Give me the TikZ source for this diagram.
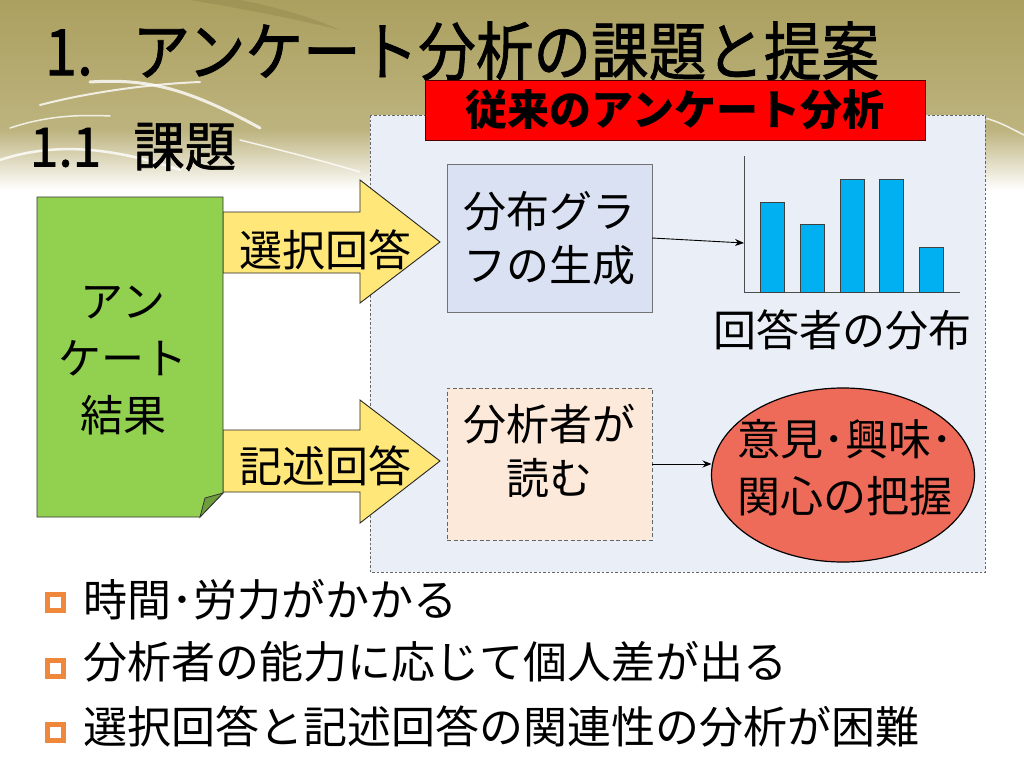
\documentclass[tikz,border=0pt]{standalone}
\usepackage{fontspec}
\setmainfont{Noto Sans CJK JP}
\newfontfamily\titlefont{Noto Sans CJK JP}[FakeBold=1.2]
\usetikzlibrary{shapes.geometric,arrows.meta}
\definecolor{olivetop}{HTML}{ABA05F}
\definecolor{olivemid}{HTML}{BDB37E}
\definecolor{olivedark}{HTML}{8A7F45}
\definecolor{regfill}{HTML}{EAEEF6}
\definecolor{boxblue}{HTML}{DAE1F2}
\definecolor{boxpeach}{HTML}{FDE9D9}
\definecolor{docgreen}{HTML}{92D050}
\definecolor{docfold}{HTML}{6E9E3C}
\definecolor{arrowyel}{HTML}{FFE77A}
\definecolor{barblue}{HTML}{00B0F0}
\definecolor{ellred}{HTML}{EE6B59}
\definecolor{bulorange}{HTML}{F0883C}
\begin{document}
\begin{tikzpicture}[x=1pt,y=-1pt,
  every node/.style={inner sep=0pt,outer sep=0pt},
  bodytext/.style={font=\fontsize{43}{54}\selectfont,align=center},
  bullettext/.style={font=\fontsize{44}{52}\selectfont,anchor=west},
  blockarrow/.style={fill=arrowyel,draw=black!85,line width=0.9pt,line join=miter},
  conn/.style={draw=black,line width=0.9pt,-{Stealth[length=9pt,width=7pt]}},
  bulletbox/.style={draw=bulorange,line width=4.5pt},
  streak/.style={draw=white,line cap=round,opacity=0.8}]
\useasboundingbox (0,0) rectangle (1024,768);
% background
\fill[white] (0,0) rectangle (1024,768);
\shade[top color=olivetop,bottom color=olivemid] (0,0) rectangle (1024,130);
\shade[top color=olivemid,bottom color=white] (0,129.5) rectangle (1024,190);
\fill[olivedark,opacity=0.35] (190,0) .. controls (250,10) and (300,20) .. (340,30) .. controls (300,12) and (260,4) .. (240,0) -- cycle;
\draw[streak,line width=2pt] (40,105) .. controls (90,92) and (150,84) .. (200,82);
\draw[streak,line width=3pt] (90,82) .. controls (150,78) and (190,90) .. (260,128);
\draw[streak,line width=1.5pt] (10,128) .. controls (40,118) and (70,114) .. (110,116);
\draw[streak,line width=2.5pt] (0,160) .. controls (60,140) and (120,150) .. (180,170);
\draw[streak,line width=1.5pt] (240,140) .. controls (280,150) and (320,160) .. (360,172);
\draw[streak,line width=1.5pt] (985,118) .. controls (1000,122) and (1010,128) .. (1024,135);
% title
\node[anchor=west] (title) at (45,51) {\scalebox{0.9}[1]{\titlefont\fontsize{64}{70}\selectfont 1.\hspace{44pt}アンケート分析の課題と提案}};
\node[anchor=west] (subtitle) at (30,147) {\scalebox{0.95}[1]{\titlefont\fontsize{54}{60}\selectfont 1.1\hspace{34pt}課題}};
% region
\draw[fill=regfill,draw=black!60,line width=0.8pt,dash pattern=on 2.5pt off 2pt] (370,115) rectangle (985,572);
% header
\node[fill=red,draw=black!70!red,line width=0.8pt,minimum width=500,minimum height=60,font=\fontsize{42}{48}\selectfont\bfseries] (hdr) at (675,110) {従来のアンケート分析};
% block arrows
\draw[blockarrow] (223,212) -- (360,212) -- (360,180) -- (440,242) -- (360,303) -- (360,273) -- (223,273) -- cycle;
\draw[blockarrow] (223,430) -- (360,430) -- (360,400) -- (440,461) -- (360,523) -- (360,492) -- (223,492) -- cycle;
\node[bodytext] (sel) at (325,250) {選択回答};
\node[bodytext] (free) at (325,466) {記述回答};
% document
\draw[fill=docgreen,draw=black!80,line width=0.9pt] (37,197) -- (223,197) -- (223,493) -- (200,517) -- (37,517) -- cycle;
\draw[fill=docfold,draw=black!80,line width=0.8pt] (223,493) -- (205,498) -- (200,517) -- cycle;
\node[font=\fontsize{43}{57}\selectfont,align=center] (doc) at (123,360) {アン\\ケート\\結果};
% upper box
\node[draw=black!55,line width=0.8pt,fill=boxblue,minimum width=205,minimum height=148,bodytext] (graph) at (549.5,238) {分布グラ\\フの生成};
% chart
\coordinate (yaxtop) at (744,156);
\coordinate (origin) at (744,292);
\coordinate (xaxend) at (960,292);
\coordinate (axhit) at (744,243);
\draw[black!70,line width=0.8pt] (yaxtop) -- (origin) -- (xaxend);
\foreach \xa/\ya in {760/202,800/224,840/179,879/179,919/247}
  \draw[fill=barblue,draw=black!75,line width=0.8pt] (\xa,\ya) rectangle (\xa+24.5,292);
\draw[conn] (graph.east) -- (axhit);
\node[bodytext] (dist) at (842,330) {回答者の分布};
% lower box
\node[draw=black!60,dash pattern=on 4pt off 2.5pt,line width=0.8pt,fill=boxpeach,minimum width=205,minimum height=152] (reader) at (549.5,464) {};
\node[bodytext] (readtxt) at (549,451) {分析者が\\読む};
% ellipse
\node[ellipse,draw=black,line width=1.2pt,fill=ellred,minimum width=263,minimum height=174] (ell) at (843,475) {};
\node[font=\fontsize{43}{57}\selectfont,align=center] (elltxt) at (845,468) {意見･興味･\\関心の把握};
\draw[conn] (reader.east) -- (reader.east -| ell.west);
% bullets
\draw[bulletbox] (47.5,594.5) rectangle (63.5,610.5);
\draw[bulletbox] (47.5,660.5) rectangle (63.5,676.5);
\draw[bulletbox] (47.5,724.5) rectangle (63.5,740.5);
\node[bullettext] (b1) at (83,600) {時間･労力がかかる};
\node[bullettext] (b2) at (83,662) {分析者の能力に応じて個人差が出る};
\node[bullettext] (b3) at (83,727) {選択回答と記述回答の関連性の分析が困難};
\end{tikzpicture}
\end{document}
